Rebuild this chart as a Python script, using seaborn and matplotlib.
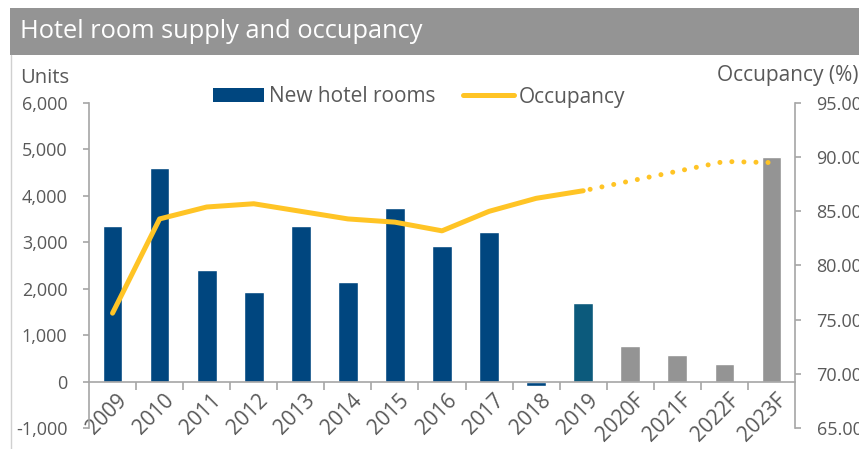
import matplotlib
matplotlib.use("Agg")
import matplotlib.pyplot as plt
import matplotlib.transforms as mtransforms
from matplotlib.patches import Rectangle, Patch
from matplotlib.lines import Line2D
from matplotlib.ticker import FixedLocator, FuncFormatter
import seaborn as sns
import pandas as pd

# ---- data ----
years = ["2009", "2010", "2011", "2012", "2013", "2014", "2015", "2016",
         "2017", "2018", "2019", "2020F", "2021F", "2022F", "2023F"]
new_rooms = [3340, 4590, 2400, 1940, 3340, 2150, 3735, 2930,
             3220, -100, 1700, 770, 570, 380, 4840]
occupancy = [75.6, 84.3, 85.4, 85.7, 85.0, 84.3, 84.0, 83.2,
             85.0, 86.2, 86.9, 87.8, 88.7, 89.6, 89.5]
bar_colors = ["#00467F"] * 10 + ["#0C5A7C"] + ["#949494"] * 4
left_ticks = [-1000, 0, 1000, 2000, 3000, 4000, 5000, 6000]
right_ticks = [65, 70, 75, 80, 85, 90, 95]

title = "Hotel room supply and occupancy"
left_label = "Units"
right_label = "Occupancy (%)"

FONT = "Open Sans"
TXT = "#595959"
AX = "#A6A6A6"
GOLD = "#FFC425"

sns.set_theme(style="white")
plt.rcParams["font.family"] = [FONT, "DejaVu Sans"]

W, H = 859, 449
fig = plt.figure(figsize=(W / 100, H / 100), dpi=100)

# title band
fig.patches.append(Rectangle((10 / W, 1 - 55 / H), 1 - 10 / W, 47 / H,
                             transform=fig.transFigure, facecolor="#949494",
                             edgecolor="none", zorder=0))
fig.text(20 / W, 1 - 32 / H, title, color="white", fontsize=18.3,
         va="center", ha="left")
fig.add_artist(Line2D([10.5 / W, 10.5 / W], [0, 1 - 55 / H],
                      transform=fig.transFigure, color="#D0D0D0", lw=1))

ax = fig.add_axes([89 / W, 1 - 428 / H, (795 - 89) / W, (428 - 103) / H])
df = pd.DataFrame({"year": years, "rooms": new_rooms, "occ": occupancy})
sns.barplot(data=df, x="year", y="rooms", hue="year", palette=bar_colors,
            width=0.42, saturation=1, legend=False, ax=ax, zorder=2)

ax.set_xlim(-0.5, len(years) - 0.5)
ax.set_ylim(-1000, 6000)
ax.set_yticks(left_ticks)
ax.yaxis.set_major_formatter(FuncFormatter(lambda v, p: f"{v:,.0f}"))
ax.set_xlabel("")
ax.set_ylabel("")

for s in ["top", "right"]:
    ax.spines[s].set_visible(False)
ax.spines["bottom"].set_position(("data", 0))
for s in ["left", "bottom"]:
    ax.spines[s].set_color(AX)
    ax.spines[s].set_linewidth(1.2)

ax.set_xticks(range(len(years)))
ax.set_xticklabels(years)
ax.xaxis.set_minor_locator(FixedLocator([i + 0.5 for i in range(len(years) - 1)]))
ax.tick_params(axis="x", which="major", length=0, pad=6, labelsize=15,
               labelcolor=TXT)
ax.tick_params(axis="x", which="minor", length=6, width=1.2, color=AX,
               direction="out", bottom=True)
ax.tick_params(axis="y", length=4.5, width=1.2, color=AX, pad=11,
               labelsize=13, labelcolor=TXT, left=True)
offset = mtransforms.ScaledTranslation(4 / 100, 0, fig.dpi_scale_trans)
for lab in ax.get_xticklabels():
    lab.set_rotation(45)
    lab.set_ha("right")
    lab.set_va("top")
    lab.set_rotation_mode("anchor")
    lab.set_transform(lab.get_transform() + offset)

# occupancy line on right axis
ax2 = ax.twinx()
xs = list(range(len(years)))
sns.lineplot(x=xs[:11], y=occupancy[:11], ax=ax2, color=GOLD, lw=3.6,
             solid_capstyle="round", solid_joinstyle="round", zorder=3)
sns.lineplot(x=xs[10:], y=occupancy[10:], ax=ax2, color=GOLD, lw=3.6,
             linestyle=(1.0, (0.01, 2.4)), dash_capstyle="round", zorder=3)
ax2.set_ylim(65, 95)
ax2.set_xlim(-0.5, len(years) - 0.5)
ax2.set_yticks(right_ticks)
ax2.yaxis.set_major_formatter(FuncFormatter(lambda v, p: f"{v:.2f}"))
for s in ["top", "left", "bottom"]:
    ax2.spines[s].set_visible(False)
ax2.spines["right"].set_color(AX)
ax2.spines["right"].set_linewidth(1.2)
ax2.tick_params(axis="y", length=4.5, width=1.2, color=AX, pad=11,
                labelsize=13, labelcolor=TXT, right=True)
ax2.set_ylabel("")

fig.text(20 / W, 1 - 78 / H, left_label, color=TXT, fontsize=14.5,
         va="center", ha="left")
fig.text(717 / W, 1 - 75 / H, right_label, color=TXT, fontsize=15,
         va="center", ha="left")

handles = [Patch(facecolor="#00467F", edgecolor="none"),
           Line2D([0], [0], color=GOLD, lw=3.6, solid_capstyle="round")]
fig.legend(handles, ["New hotel rooms", "Occupancy"], loc="center left",
           bbox_to_anchor=(213 / W, 1 - 97 / H), ncol=2, frameon=False,
           fontsize=15, labelcolor=TXT, handlelength=2.45, handleheight=0.62,
           handletextpad=0.25, columnspacing=1.3, borderpad=0,
           borderaxespad=0)

fig.savefig("out.png", dpi=100)
